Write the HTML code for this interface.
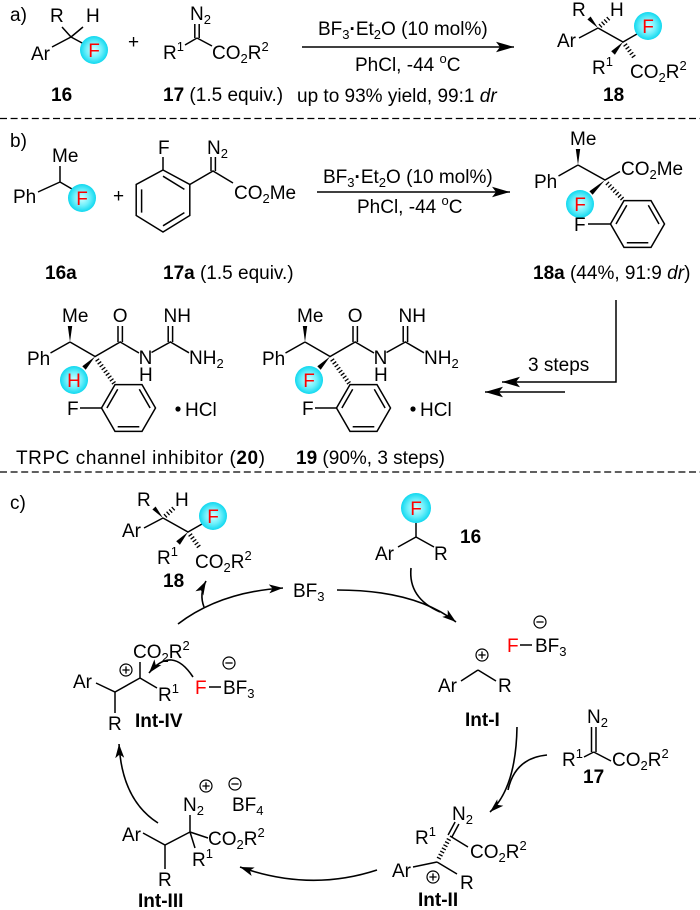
<!DOCTYPE html>
<html><head><meta charset="utf-8"><title>scheme</title>
<style>
html,body{margin:0;padding:0;background:#fff;width:700px;height:910px;overflow:hidden}
svg{display:block}
text{font-family:"Liberation Sans",Arial,sans-serif;font-size:19px;fill:#000}
.b{font-weight:bold}
.red{fill:#ff0000}
.s{font-size:13px}
.i{font-style:italic}
</style></head><body>
<svg width="700" height="910" viewBox="0 0 700 910" xmlns="http://www.w3.org/2000/svg">
<defs>
 <radialGradient id="cg" cx="50%" cy="50%" r="50%">
  <stop offset="0" stop-color="#d2ffff"/>
  <stop offset="0.55" stop-color="#6ff0fb"/>
  <stop offset="1" stop-color="#10d8ef"/>
 </radialGradient>
 <marker id="big" markerWidth="20" markerHeight="12" refX="18" refY="6" orient="auto" markerUnits="userSpaceOnUse"><path d="M0,0.8 L18,6 L0,11.2 L4,6 Z" fill="#000" stroke="none"/></marker>
 <marker id="sm" markerWidth="15" markerHeight="10" refX="14" refY="5" orient="auto" markerUnits="userSpaceOnUse"><path d="M0,0.5 L14,5 L0,9.5 L3.5,5 Z" fill="#000" stroke="none"/></marker>
 <g id="pl"><circle r="6" fill="#fff" stroke="#000" stroke-width="1.2"/><path d="M-3.6,0H3.6M0,-3.6V3.6" stroke="#000" stroke-width="1.3"/></g>
 <g id="mi"><circle r="6" fill="#fff" stroke="#000" stroke-width="1.2"/><path d="M-3.6,0H3.6" stroke="#000" stroke-width="1.3"/></g>

 <g id="m18">
  <g stroke="#000" stroke-width="1.5" fill="none">
   <path d="M0,0L-19,10M0,0L25,14L39,6"/>
   <path d="M2,-1.8L11,-10" stroke-width="4.5" stroke-dasharray="1.3 2.2"/>
   <path d="M27,16.5L36,29" stroke-width="4.5" stroke-dasharray="1.3 2.2"/>
  </g>
  <polygon points="0,0 -7.4,-11.5 -10.6,-8.5" fill="#000"/>
  <polygon points="25,14 16.9,26.7 13.2,23.3" fill="#000"/>
  <circle cx="50" cy="-2" r="14" fill="url(#cg)"/>
  <text x="50" y="5" class="red" text-anchor="middle">F</text>
  <text x="-26" y="-12">R</text>
  <text x="12" y="-12">H</text>
  <text x="-41" y="19">Ar</text>
  <text x="-6" y="46">R<tspan class="s" dy="-8">1</tspan></text>
  <text x="32" y="50">CO<tspan class="s" dy="4">2</tspan><tspan dy="-4">R</tspan><tspan class="s" dy="-8">2</tspan></text>
 </g>

 <g id="am">
  <g stroke="#000" stroke-width="1.5" fill="none">
   <path d="M0,0L-19.5,11M0,0L25.1,14.5L50.2,0L69,11M81.5,10.5L100.4,0L119,10.8"/>
   <path d="M48,0V-16M52.4,0V-16M98.2,0V-16M102.6,0V-16"/>
   <path d="M10,66H31.5"/>
   <polygon points="31.5,66 45,42.6 72,42.6 85.5,66 72,89.4 45,89.4"/>
   <path d="M36.9,66L47.7,47.3M69.3,47.3L80.1,66M69.3,84.7L47.7,84.7"/>
   <path d="M27,17.5L45,42.6" stroke-width="4.5" stroke-dasharray="1.3 2.2"/>
  </g>
  <polygon points="0,0 -2.2,-16 2.2,-16" fill="#000"/>
  <polygon points="25.1,14.5 15.7,27.7 12.3,24.3" fill="#000"/>
  <circle cx="108" cy="67" r="2.6" fill="#000"/>
  <text x="-8" y="-20">Me</text>
  <text x="-43" y="23">Ph</text>
  <text x="42.8" y="-20">O</text>
  <text x="68.6" y="22">N</text>
  <text x="69" y="39">H</text>
  <text x="93.5" y="-20">NH</text>
  <text x="119" y="22">NH<tspan class="s" dy="4">2</tspan></text>
  <text x="-3" y="73">F</text>
  <text x="115" y="74">HCl</text>
  <circle cx="4" cy="38" r="14" fill="url(#cg)"/>
 </g>
</defs>

<g stroke="#000" stroke-width="1.3" stroke-dasharray="7 3.6">
 <line x1="0" y1="118.5" x2="700" y2="118.5"/>
 <line x1="0" y1="472" x2="700" y2="472"/>
</g>

<!-- a) -->
<text x="10" y="21">a)</text>
<g stroke="#000" stroke-width="1.5" fill="none">
 <path d="M71,37L62,27M71,37L83,27M71,37L52,47M71,37L84,44"/>
 <path d="M194.8,24V38M199.2,24V38M197,38L185,45M197,38L212,46"/>
 <line x1="302" y1="47" x2="514" y2="47" marker-end="url(#big)"/>
</g>
<circle cx="94" cy="50" r="14" fill="url(#cg)"/>
<text x="94" y="57" class="red" text-anchor="middle">F</text>
<text x="50" y="22">R</text>
<text x="86" y="22">H</text>
<text x="31" y="60">Ar</text>
<text x="128" y="48">+</text>
<text x="190" y="20">N<tspan class="s" dy="4">2</tspan></text>
<text x="163" y="59">R<tspan class="s" dy="-8">1</tspan></text>
<text x="212" y="59">CO<tspan class="s" dy="4">2</tspan><tspan dy="-4">R</tspan><tspan class="s" dy="-8">2</tspan></text>
<text x="318" y="35">BF<tspan class="s" dy="4">3</tspan><tspan dy="-4" font-weight="bold">·</tspan><tspan>Et</tspan><tspan class="s" dy="4">2</tspan><tspan dy="-4">O (10 mol%)</tspan></text>
<text x="355" y="71">PhCl, -44 <tspan class="s" dy="-8">o</tspan><tspan dy="8">C</tspan></text>
<text x="297" y="102">up to 93% yield, 99:1 <tspan class="i">dr</tspan></text>
<use href="#m18" x="598" y="28"/>
<text x="51" y="101" class="b">16</text>
<text x="163" y="101"><tspan class="b">17</tspan> (1.5 equiv.)</text>
<text x="603" y="101" class="b">18</text>

<!-- b) -->
<text x="10" y="147">b)</text>
<g stroke="#000" stroke-width="1.5" fill="none">
 <path d="M60,182V166M60,182L38,192M60,182L72,189"/>
 <polygon points="163,170 189.8,184.5 189.8,215.5 163,232 136.2,215.5 136.2,184.5"/>
 <path d="M141.6,212.6V189.4M163,176.2L184.4,189.4M184.4,212.6L163,225.8"/>
 <path d="M163,170V157M189.8,184.5L213,171L233,183M211,171V157M215.4,171V157"/>
 <line x1="317" y1="192" x2="510" y2="192" marker-end="url(#big)"/>
 <path d="M578,165L558.5,176M578,165L605,180L620,171.5M588,224H610.5"/>
 <polygon points="610.5,224 624,200.6 651,200.6 664.5,224 651,247.4 624,247.4"/>
 <path d="M616,224L626.8,205.3M648.3,205.3L659,224M648.3,242.7L626.8,242.7"/>
 <path d="M607,183L624,200.6" stroke-width="4.5" stroke-dasharray="1.3 2.2"/>
 <polyline points="616,300 616,382 502,382" marker-end="url(#big)"/>
 <line x1="565" y1="392" x2="485" y2="392" marker-end="url(#big)"/>
</g>
<circle cx="82" cy="198" r="14" fill="url(#cg)"/>
<text x="82" y="205" class="red" text-anchor="middle">F</text>
<text x="52" y="162">Me</text>
<text x="13" y="203">Ph</text>
<text x="113" y="202">+</text>
<text x="158" y="154">F</text>
<text x="207" y="154">N<tspan class="s" dy="4">2</tspan></text>
<text x="234" y="199">CO<tspan class="s" dy="4">2</tspan><tspan dy="-4">Me</tspan></text>
<text x="323" y="183">BF<tspan class="s" dy="4">3</tspan><tspan dy="-4" font-weight="bold">·</tspan><tspan>Et</tspan><tspan class="s" dy="4">2</tspan><tspan dy="-4">O (10 mol%)</tspan></text>
<text x="357" y="213">PhCl, -44 <tspan class="s" dy="-8">o</tspan><tspan dy="8">C</tspan></text>
<polygon points="578,165 575.8,149 580.2,149" fill="#000"/>
<polygon points="605,180 592.6,194.8 589.4,191.2" fill="#000"/>
<circle cx="580" cy="204" r="14" fill="url(#cg)"/>
<text x="580" y="211" class="red" text-anchor="middle">F</text>
<text x="570" y="145">Me</text>
<text x="534" y="188">Ph</text>
<text x="621" y="175">CO<tspan class="s" dy="4">2</tspan><tspan dy="-4">Me</tspan></text>
<text x="574" y="231">F</text>
<text x="45" y="279" class="b">16a</text>
<text x="163" y="279"><tspan class="b">17a</tspan> (1.5 equiv.)</text>
<text x="533" y="279"><tspan class="b">18a</tspan> (44%, 91:9 <tspan class="i">dr</tspan>)</text>
<text x="528" y="371">3 steps</text>

<use href="#am" x="70" y="342"/>
<text x="74" y="387" class="red" text-anchor="middle">H</text>
<use href="#am" x="305" y="342"/>
<text x="309" y="387" class="red" text-anchor="middle">F</text>
<text x="16" y="464" textLength="249" lengthAdjust="spacing">TRPC channel inhibitor (<tspan class="b">20</tspan>)</text>
<text x="296" y="464"><tspan class="b">19</tspan> (90%, 3 steps)</text>

<!-- c) -->
<text x="10" y="509">c)</text>
<use href="#m18" x="163" y="518"/>
<text x="163" y="587" class="b">18</text>
<text x="293" y="597">BF<tspan class="s" dy="4">3</tspan></text>

<g stroke="#000" stroke-width="1.5" fill="none">
 <path d="M416,537V523M416,537L398,547M416,537L434,547"/>
 <path d="M478,670L461,681M478,670L496,681M520,645H532"/>
 <path d="M591.5,727V752M596,727V752M593.7,752L584,757M593.7,752L611,761"/>
 <path d="M448.1,835L455.1,822M451.9,837L458.9,824M450,836L468,847"/>
 <path d="M449,839L438,860" stroke-width="4.5" stroke-dasharray="1.3 2.2"/>
 <path d="M437,862L413,867M437,862L457,874"/>
 <path d="M190,832V815M190,832L208,838M190,832L195,848M190,832L165,845L143,833M165,845V869"/>
 <path d="M140,678V662M140,678L157,688M140,678L115,692L96,683M115,692V713M209,687H221"/>
</g>
<g stroke="#000" stroke-width="1.6" fill="none">
 <path d="M178,624Q220,592 283,588" marker-end="url(#sm)"/>
 <path d="M204,607Q199,594 206,581" marker-end="url(#sm)"/>
 <path d="M337,590Q415,590 456,622" marker-end="url(#sm)"/>
 <path d="M411,568Q408,598 440,612"/>
 <path d="M517,727Q516,788 490,812" marker-end="url(#sm)"/>
 <path d="M547,755Q515,758 508,790"/>
 <path d="M377,870Q310,892 240,867" marker-end="url(#sm)"/>
 <path d="M158,823Q122,800 119,744" marker-end="url(#sm)"/>
 <path d="M193,677Q172,645 149,673" marker-end="url(#sm)"/>
</g>

<circle cx="416" cy="508" r="15" fill="url(#cg)"/>
<text x="416" y="515" class="red" text-anchor="middle">F</text>
<text x="375" y="560">Ar</text>
<text x="434" y="560">R</text>
<text x="460" y="543" class="b">16</text>

<use href="#mi" x="540" y="622"/>
<use href="#pl" x="482" y="655"/>
<text x="507" y="652" class="red">F</text>
<text x="535" y="652">BF<tspan class="s" dy="4">3</tspan></text>
<text x="438" y="692">Ar</text>
<text x="498" y="692">R</text>
<text x="465" y="726" class="b">Int-I</text>

<text x="587" y="723">N<tspan class="s" dy="4">2</tspan></text>
<text x="562" y="766">R<tspan class="s" dy="-8">1</tspan></text>
<text x="612" y="766">CO<tspan class="s" dy="4">2</tspan><tspan dy="-4">R</tspan><tspan class="s" dy="-8">2</tspan></text>
<text x="583" y="783" class="b">17</text>

<text x="452" y="820">N<tspan class="s" dy="4">2</tspan></text>
<text x="415" y="844">R<tspan class="s" dy="-8">1</tspan></text>
<text x="470" y="858">CO<tspan class="s" dy="4">2</tspan><tspan dy="-4">R</tspan><tspan class="s" dy="-8">2</tspan></text>
<text x="392" y="877">Ar</text>
<text x="460" y="889">R</text>
<use href="#pl" x="433" y="877"/>
<text x="418" y="906" class="b">Int-II</text>

<use href="#pl" x="206" y="786"/>
<use href="#mi" x="235" y="784"/>
<text x="183" y="811">N<tspan class="s" dy="4">2</tspan></text>
<text x="232" y="811">BF<tspan class="s" dy="4">4</tspan></text>
<text x="208" y="845">CO<tspan class="s" dy="4">2</tspan><tspan dy="-4">R</tspan><tspan class="s" dy="-8">2</tspan></text>
<text x="192" y="866">R<tspan class="s" dy="-8">1</tspan></text>
<text x="122" y="841">Ar</text>
<text x="158" y="886">R</text>
<text x="138" y="907" class="b">Int-III</text>

<text x="133" y="658">CO<tspan class="s" dy="4">2</tspan><tspan dy="-4">R</tspan><tspan class="s" dy="-8">2</tspan></text>
<use href="#pl" x="126" y="670"/>
<text x="158" y="701">R<tspan class="s" dy="-8">1</tspan></text>
<text x="73" y="688">Ar</text>
<text x="108" y="730">R</text>
<text x="135" y="727" class="b">Int-IV</text>
<use href="#mi" x="229" y="663"/>
<text x="195" y="694" class="red">F</text>
<text x="223" y="694">BF<tspan class="s" dy="4">3</tspan></text>
</svg>
</body></html>
